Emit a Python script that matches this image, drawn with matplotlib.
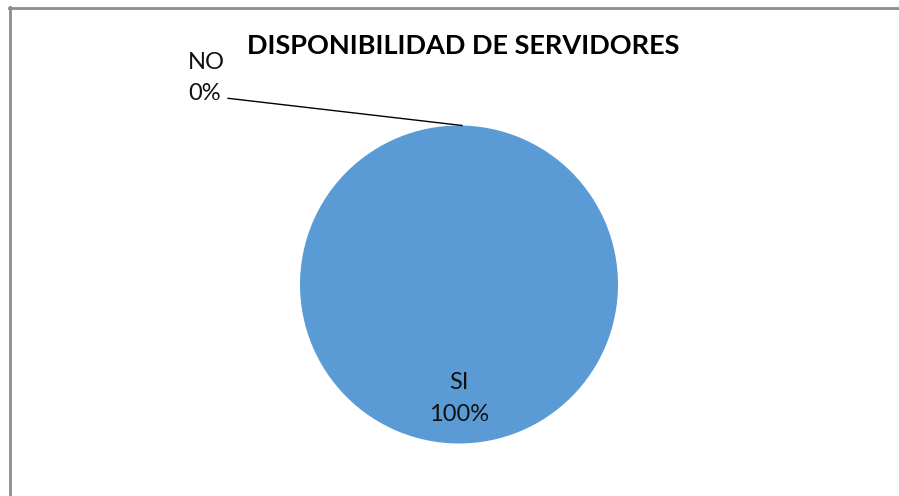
import matplotlib
matplotlib.use("Agg")
import matplotlib.pyplot as plt
import numpy as np

categories = ["SI", "NO"]
values = [100, 0]
title = "DISPONIBILIDAD DE SERVIDORES"
colors = ["#5B9BD5", "#ED7D31"]

body = "Lato"

W, H = 899, 496
fig = plt.figure(figsize=(W / 100, H / 100), dpi=100)
fig.patch.set_facecolor("white")

# chart border (top and left visible)
fig.add_artist(plt.Line2D([9 / W, 1], [1 - 7.5 / H, 1 - 7.5 / H], color="#8c8c8c", lw=2))
fig.add_artist(plt.Line2D([9.5 / W, 9.5 / W], [0, 1 - 7 / H], color="#8c8c8c", lw=2))

cx, cy, r = 459, 284.5, 159
ax = fig.add_axes([(cx - r) / W, (H - cy - r) / H, 2 * r / W, 2 * r / H])
wedges, _ = ax.pie(values, colors=colors, startangle=90, counterclock=False,
                   radius=1, wedgeprops=dict(linewidth=0))
ax.set_xlim(-1, 1)
ax.set_ylim(-1, 1)
ax.set_aspect("equal")
ax.axis("off")

total = sum(values)
for w, cat, v in zip(wedges, categories, values):
    pct = f"{v / total * 100:.0f}%"
    mid = np.deg2rad((w.theta1 + w.theta2) / 2)
    if v > 0:
        ax.text(0.70 * np.cos(mid), 0.70 * np.sin(mid) - 0.015, f"{cat}\n{pct}",
                ha="center", va="center", fontsize=17, family=body,
                linespacing=1.65, color="#111111")
    else:
        ax.annotate(f"{cat}\n{pct}", xy=(np.cos(mid) + 0.02, np.sin(mid)),
                    xytext=(-1.704, 1.298), ha="left", va="center",
                    fontsize=17, family=body, linespacing=1.6, color="#111111",
                    arrowprops=dict(arrowstyle="-", color="black", lw=1,
                                    shrinkA=0, shrinkB=0,
                                    relpos=(1.0, 0.12)),
                    annotation_clip=False)

fig.text(463 / W, 1 - 46.5 / H, title, ha="center", va="center",
         fontsize=19.5, fontweight="bold", family=body, color="black")

fig.savefig("out.png", dpi=100, facecolor="white")
